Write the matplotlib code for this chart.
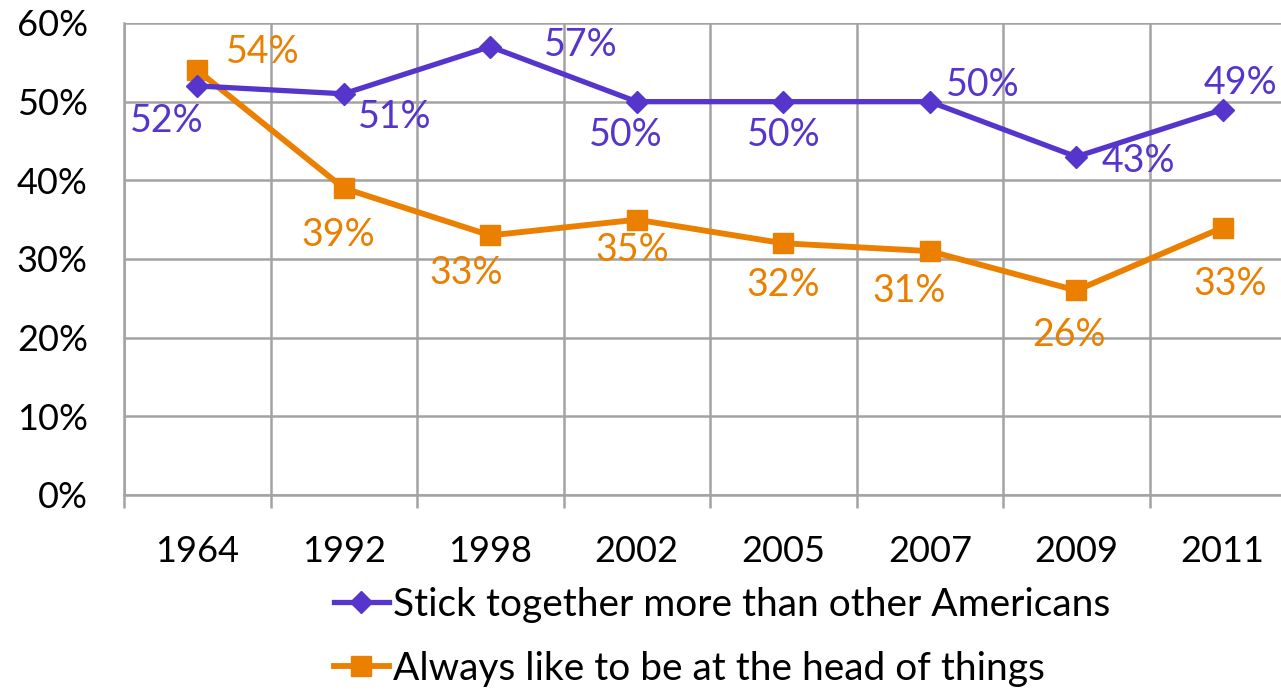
import matplotlib
matplotlib.use("Agg")
import matplotlib.pyplot as plt
import numpy as np

# data
years = ["1964", "1992", "1998", "2002", "2005", "2007", "2009", "2011"]
stick_together = [52, 51, 57, 50, 50, 50, 43, 49]
head_of_things = [54, 39, 33, 35, 32, 31, 26, 34]
stick_labels = ["52%", "51%", "57%", "50%", "50%", "50%", "43%", "49%"]
head_labels = ["54%", "39%", "33%", "35%", "32%", "31%", "26%", "33%"]

PURPLE = "#5535CC"
ORANGE = "#EA7F00"
GRID = "#A3A3A3"

plt.rcParams["font.family"] = ["Lato", "DejaVu Sans"]
FS = 26

fig = plt.figure(figsize=(12.81, 6.93), dpi=100)
ax = fig.add_axes([124 / 1281, 1 - 495 / 693, (1296 - 124) / 1281, (495 - 23) / 693])

x = np.arange(len(years))
ax.plot(x, stick_together, color=PURPLE, lw=3.8, marker="D", ms=11,
        label="Stick together more than other Americans", zorder=4)
ax.plot(x, head_of_things, color=ORANGE, lw=4.2, marker="s", ms=15,
        label="Always like to be at the head of things", zorder=3)

# label offsets (points) relative to each point
stick_off = [(-22, -25), (37, -17), (65, 1), (-8, -24), (0, -24), (38, 12), (45, -3), (13, 19)]
head_off = [(47, 13), (-4, -34), (-17, -27), (-3, -22), (0, -30), (-15, -29), (-5, -32), (5, -41)]
for i in x:
    ax.annotate(stick_labels[i], (i, stick_together[i]), xytext=stick_off[i],
                textcoords="offset points", ha="center", va="center",
                color=PURPLE, fontsize=FS + 1, zorder=5)
    ax.annotate(head_labels[i], (i, head_of_things[i]), xytext=head_off[i],
                textcoords="offset points", ha="center", va="center",
                color=ORANGE, fontsize=FS + 1, zorder=5)

ax.set_xlim(-0.5, len(years) - 0.5)
ax.set_ylim(0, 60)
ax.set_xticks(x)
ax.set_xticklabels(years)
ax.set_xticks(np.arange(-0.5, len(years), 1.0), minor=True)
ax.set_yticks(np.arange(0, 61, 10))
ax.set_yticklabels([f"{v}%" for v in range(0, 61, 10)])

ax.tick_params(axis="x", which="major", length=0, pad=29, labelsize=FS)
ax.tick_params(axis="x", which="minor", length=9, width=1.8, color=GRID, direction="out")
ax.tick_params(axis="y", length=0, pad=26, labelsize=FS)

ax.grid(True, axis="y", which="major", color=GRID, lw=1.8)
ax.grid(True, axis="x", which="minor", color=GRID, lw=1.8)
ax.grid(False, axis="x", which="major")
ax.set_axisbelow(True)

for side in ["top", "right"]:
    ax.spines[side].set_visible(False)
for side in ["left", "bottom"]:
    ax.spines[side].set_color(GRID)
    ax.spines[side].set_linewidth(1.8)

fig.legend(loc="center", bbox_to_anchor=(722 / 1281, 1 - 637 / 693), ncol=1,
           frameon=False, fontsize=28, handlelength=1.4, handletextpad=0.1,
           labelspacing=0.72, borderaxespad=0)

fig.savefig("out.png", dpi=100)
